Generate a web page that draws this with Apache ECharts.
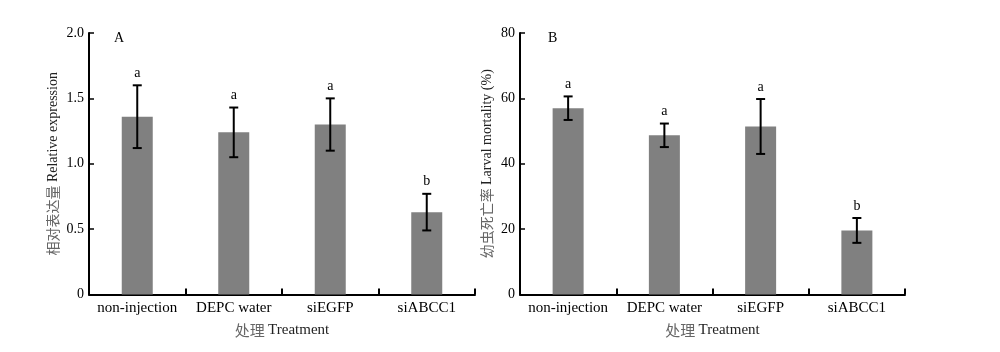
<!DOCTYPE html>
<html>
<head>
<meta charset="utf-8">
<script src="https://cdn.jsdelivr.net/npm/echarts@6/dist/echarts.min.js"></script>
<style>
	html, body { margin: 0; padding: 0; background: #fff; }
	#chart { width: 1000px; height: 352px; }
</style>
</head>
<body>
<div id="chart"></div>
<script>
const categories = ['non-injection', 'DEPC water', 'siEGFP', 'siABCC1'];

// panel A: relative expression
const expressionMean = [1.36, 1.24, 1.30, 0.63];
const expressionErr = [0.24, 0.19, 0.20, 0.14];
const expressionLetters = ['a', 'a', 'a', 'b'];

// panel B: larval mortality (%)
const mortalityMean = [57.0, 48.7, 51.4, 19.6];
const mortalityErr = [3.6, 3.6, 8.4, 3.8];
const mortalityLetters = ['a', 'a', 'a', 'b'];

const serif = '"Liberation Serif", "Times New Roman", serif';
const cjk = '"Noto Sans CJK SC", sans-serif';

const chart = echarts.init(document.querySelector('#chart'));

function errorSeries(axisIndex, means, errs, letters) {
	return {
		type: 'custom',
		xAxisIndex: axisIndex,
		yAxisIndex: axisIndex,
		z: 5,
		renderItem(params, api) {
			const i = params.dataIndex;
			const x = api.coord([i, 0])[0];
			const top = api.coord([i, means[i] + errs[i]])[1];
			const bottom = api.coord([i, means[i] - errs[i]])[1];
			const cap = 4.5;
			const style = { stroke: '#000', lineWidth: 2 };
			return {
				type: 'group',
				children: [
					{ type: 'line', shape: { x1: x, y1: top, x2: x, y2: bottom }, style },
					{ type: 'line', shape: { x1: x - cap, y1: top, x2: x + cap, y2: top }, style },
					{ type: 'line', shape: { x1: x - cap, y1: bottom, x2: x + cap, y2: bottom }, style },
					{
						type: 'text',
						style: {
							x: x,
							y: top - 5,
							text: letters[i],
							fill: '#000',
							align: 'center',
							verticalAlign: 'bottom',
							font: '14px ' + serif
						}
					}
				]
			};
		},
		data: means.map((m, i) => [i, m])
	};
}

function axisName(cn, en) {
	return '{cn|' + cn + '} {en|' + en + '}';
}

const nameRich = size => ({
	cn: { fontFamily: cjk, fontSize: size, color: '#666' },
	en: { fontFamily: serif, fontSize: size, color: '#222' }
});

function xAxis(gridIndex) {
	return {
		type: 'category',
		gridIndex,
		data: categories,
		name: axisName('处理', 'Treatment'),
		nameLocation: 'middle',
		nameGap: 28,
		nameTextStyle: { rich: nameRich(15) },
		axisLine: { lineStyle: { color: '#000', width: 2 } },
		axisTick: { show: true, interval: 0, inside: true, length: 6, lineStyle: { color: '#000', width: 2 } },
		axisLabel: { interval: 0, color: '#000', fontFamily: serif, fontSize: 15, margin: 6 }
	};
}

function yAxis(gridIndex, max, interval, cn, en, gap, fmt) {
	return {
		type: 'value',
		gridIndex,
		min: 0,
		max,
		interval,
		name: axisName(cn, en),
		nameLocation: 'middle',
		nameGap: gap,
		nameTextStyle: { rich: nameRich(14) },
		splitLine: { show: false },
		axisLine: { show: true, lineStyle: { color: '#000', width: 2 } },
		axisTick: { show: true, inside: true, length: 5, lineStyle: { color: '#000', width: 1.5 } },
		axisLabel: { color: '#000', fontFamily: serif, fontSize: 14, margin: 5, formatter: fmt }
	};
}

const option = {
	animation: false,
	backgroundColor: '#fff',
	title: [
		{ text: 'A', left: 109, top: 26, textStyle: { fontFamily: serif, fontSize: 14, fontWeight: 'normal', color: '#000' } },
		{ text: 'B', left: 543, top: 26, textStyle: { fontFamily: serif, fontSize: 14, fontWeight: 'normal', color: '#000' } }
	],
	grid: [
		{ left: 89, right: 525, top: 33, bottom: 57.5 },
		{ left: 520, right: 95, top: 33, bottom: 57.5 }
	],
	xAxis: [xAxis(0), xAxis(1)],
	yAxis: [
		yAxis(0, 2, 0.5, '相对表达量', 'Relative expression', 29, v => (v === 0 ? '0' : v.toFixed(1))),
		yAxis(1, 80, 20, '幼虫死亡率', 'Larval mortality (%)', 26, v => String(v))
	],
	series: [
		{
			type: 'bar',
			xAxisIndex: 0,
			yAxisIndex: 0,
			barWidth: 31,
			itemStyle: { color: '#808080' },
			data: expressionMean
		},
		errorSeries(0, expressionMean, expressionErr, expressionLetters),
		{
			type: 'bar',
			xAxisIndex: 1,
			yAxisIndex: 1,
			barWidth: 31,
			itemStyle: { color: '#808080' },
			data: mortalityMean
		},
		errorSeries(1, mortalityMean, mortalityErr, mortalityLetters)
	]
};

chart.setOption(option);
</script>
</body>
</html>
